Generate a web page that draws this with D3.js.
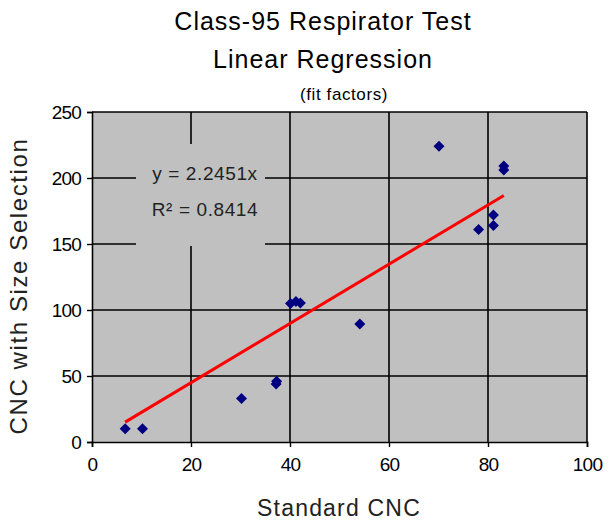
<!DOCTYPE html>
<html><head><meta charset="utf-8">
<script src="https://cdn.jsdelivr.net/npm/d3@7"></script>
<style>body{margin:0;background:#fff}svg{display:block}text{font-family:"Liberation Sans",Arial,sans-serif}</style>
</head><body>
<svg id="c" width="610" height="523"></svg>
<script>
const xValues = [6.7, 10.2, 30.2, 37.2, 37.3, 40.1, 41.2, 42.1, 54.1, 70.1, 78.1, 81.1, 81.1, 83.2, 83.2];
const yValues = [10, 10, 33, 44, 46, 105, 106.5, 105.3, 89.4, 224, 161, 172, 164, 206, 209];
const xTicks = [0, 20, 40, 60, 80, 100];
const yTicks = [0, 50, 100, 150, 200, 250];
const slope = 2.2451;
const equationLines = ["y = 2.2451x", "R² = 0.8414"];
const titleLines = ["Class-95 Respirator Test", "Linear Regression"];
const subtitle = "(fit factors)";
const xTitle = "Standard CNC";
const yTitle = "CNC with Size Selection";

const svg = d3.select("#c");
const L = 92, R = 587, T = 112, B = 442;
const x = d3.scaleLinear().domain([0, 100]).range([L, R]);
const y = d3.scaleLinear().domain([0, 250]).range([B, T]);

svg.append("rect").attr("x", L).attr("y", T).attr("width", R - L).attr("height", B - T).attr("fill", "#c0c0c0");

// gridlines
svg.append("g").selectAll("line").data(yTicks.filter(d => d > 0)).join("line")
  .attr("x1", L).attr("x2", R).attr("y1", d => y(d)).attr("y2", d => y(d))
  .attr("stroke", "#000").attr("stroke-width", 1.6);
svg.append("g").selectAll("line").data(xTicks.filter(d => d > 0)).join("line")
  .attr("y1", T).attr("y2", B).attr("x1", d => x(d)).attr("x2", d => x(d))
  .attr("stroke", "#000").attr("stroke-width", 1.6);

// axes
const xAxis = svg.append("g").attr("transform", `translate(0,${B})`)
  .call(d3.axisBottom(x).tickValues(xTicks).tickSize(5).tickPadding(11));
const yAxis = svg.append("g").attr("transform", `translate(${L},0)`)
  .call(d3.axisLeft(y).tickValues(yTicks).tickSize(5).tickPadding(6));
[xAxis, yAxis].forEach(a => {
  a.select(".domain").attr("stroke", "#000").attr("stroke-width", 1.6);
  a.selectAll(".tick line").attr("stroke", "#000").attr("stroke-width", 1.4);
  a.selectAll(".tick text").attr("font-size", 19).attr("fill", "#000")
    .attr("letter-spacing", -0.8)
    .style("font-family", '"Liberation Sans",Arial,sans-serif');
});

// equation label box
svg.append("rect").attr("x", 136).attr("y", 144).attr("width", 129).attr("height", 102).attr("fill", "#c0c0c0");
svg.append("g").selectAll("text").data(equationLines).join("text")
  .attr("x", 205).attr("y", (d, i) => 180 + i * 36).attr("text-anchor", "middle")
  .attr("font-size", 19).attr("letter-spacing", 0.6).attr("fill", "#222").text(d => d);

// trendline
const xmin = d3.min(xValues), xmax = d3.max(xValues);
svg.append("line").attr("x1", x(xmin)).attr("y1", y(slope * xmin)).attr("x2", x(xmax)).attr("y2", y(slope * xmax))
  .attr("stroke", "#ff0000").attr("stroke-width", 3);

// points
svg.append("g").selectAll("path").data(xValues.map((v, i) => [v, yValues[i]])).join("path")
  .attr("transform", d => `translate(${x(d[0])},${y(d[1])})`)
  .attr("d", "M0,-5.5L5.5,0L0,5.5L-5.5,0Z").attr("fill", "#000080");

// titles
svg.append("g").selectAll("text").data(titleLines).join("text")
  .attr("x", 323).attr("y", (d, i) => 30 + i * 38).attr("text-anchor", "middle")
  .attr("font-size", 25).attr("letter-spacing", 1).attr("fill", "#000").text(d => d);
svg.append("text").attr("x", 344).attr("y", 100).attr("text-anchor", "middle").attr("font-size", 17).attr("letter-spacing", 0.6).text(subtitle);
svg.append("text").attr("x", 339).attr("y", 516).attr("text-anchor", "middle").attr("font-size", 23).attr("letter-spacing", 1.2).attr("fill", "#222").text(xTitle);
svg.append("text").attr("transform", "translate(27,286) rotate(-90)").attr("text-anchor", "middle").attr("font-size", 24).attr("letter-spacing", 1.6).attr("fill", "#222").text(yTitle);
</script>
</body></html>
